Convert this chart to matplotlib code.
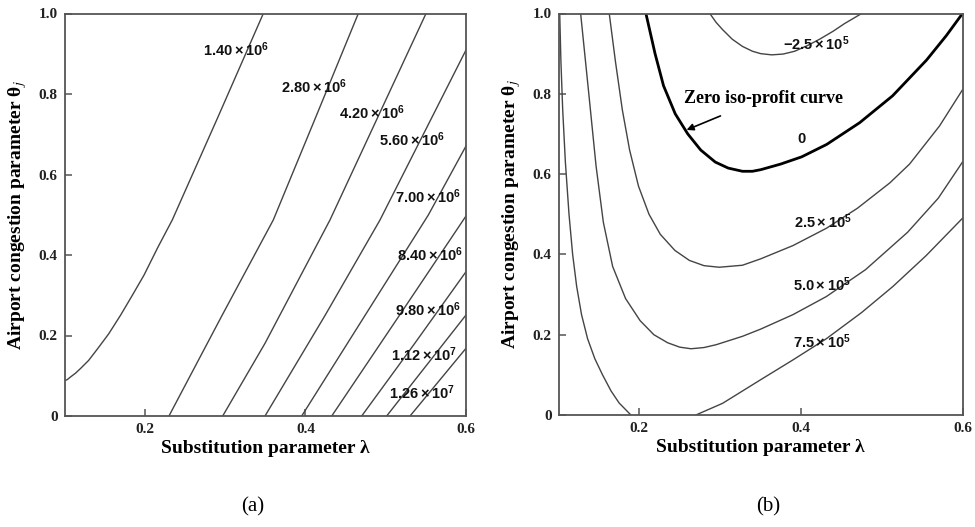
import matplotlib
matplotlib.use('Agg')
import matplotlib.pyplot as plt

plt.rcParams['mathtext.fontset'] = 'custom'
plt.rcParams['mathtext.rm'] = 'Liberation Sans:bold'
plt.rcParams['mathtext.bf'] = 'Liberation Sans:bold'
plt.rcParams['mathtext.it'] = 'Liberation Sans:bold'

# ---------------- data: panel (a) iso-curves (lambda, theta) ----------------
a_140_x = [0.3476, 0.2905, 0.2342, 0.2165, 0.199, 0.1845, 0.170, 0.155, 0.1408,
           0.130, 0.1202, 0.1135, 0.1075, 0.1035, 0.1]
a_140_y = [1.0, 0.74, 0.487, 0.42, 0.35, 0.30, 0.251, 0.204, 0.166,
           0.138, 0.1185, 0.106, 0.097, 0.0905, 0.0877]
a_280_x = [0.4659, 0.413, 0.360, 0.2965, 0.2301]
a_280_y = [1.0, 0.743, 0.487, 0.251, 0.0]
a_420_x = [0.5502, 0.4306, 0.3497, 0.297]
a_420_y = [1.0, 0.487, 0.1806, 0.0]
a_560_x = [0.6, 0.4929, 0.4248, 0.3497]
a_560_y = [0.9093, 0.487, 0.251, 0.0]
a_700_x = [0.6, 0.5531, 0.4746, 0.3954]
a_700_y = [0.6708, 0.4994, 0.251, 0.0]
a_840_x = [0.6, 0.5174, 0.4328]
a_840_y = [0.4969, 0.251, 0.0]
a_980_x = [0.6, 0.536, 0.4701]
a_980_y = [0.3585, 0.18, 0.0]
a_1120_x = [0.6, 0.5012]
a_1120_y = [0.2509, 0.0]
a_1260_x = [0.6, 0.5303]
a_1260_y = [0.1682, 0.0]

a_labels = [r'$\mathbf{1.40\times10^{6}}$', r'$\mathbf{2.80\times10^{6}}$',
            r'$\mathbf{4.20\times10^{6}}$', r'$\mathbf{5.60\times10^{6}}$',
            r'$\mathbf{7.00\times10^{6}}$', r'$\mathbf{8.40\times10^{6}}$',
            r'$\mathbf{9.80\times10^{6}}$', r'$\mathbf{1.12\times10^{7}}$',
            r'$\mathbf{1.26\times10^{7}}$']
a_label_x = [0.3136, 0.4107, 0.4829, 0.5327, 0.5527, 0.5552, 0.5527, 0.5477, 0.5452]
a_label_y = [0.9093, 0.8174, 0.7528, 0.6857, 0.5441, 0.400, 0.2634, 0.1516, 0.0571]

# ---------------- data: panel (b) iso-profit curves ----------------
b_m25_x = [0.2873, 0.295, 0.303, 0.315, 0.3277, 0.34, 0.3503, 0.3639, 0.378,
           0.3923, 0.408, 0.4232, 0.44, 0.4541, 0.4752]
b_m25_y = [1.0, 0.978, 0.96, 0.936, 0.918, 0.906, 0.900, 0.897, 0.899,
           0.906, 0.92, 0.936, 0.956, 0.975, 1.0]
b_0_x = [0.2082, 0.2195, 0.2300, 0.2445, 0.2600, 0.2760, 0.2940, 0.3100, 0.3277,
         0.3400, 0.3503, 0.375, 0.401, 0.432, 0.4727, 0.5135, 0.5555, 0.58, 0.6]
b_0_y = [1.0, 0.90, 0.82, 0.75, 0.70, 0.66, 0.63, 0.615, 0.607,
         0.607, 0.611, 0.625, 0.643, 0.674, 0.728, 0.795, 0.884, 0.945, 1.0]
b_25_x = [0.1628, 0.1705, 0.1790, 0.1880, 0.1990, 0.2120, 0.2260, 0.2440, 0.2620,
          0.2800, 0.2988, 0.3277, 0.3503, 0.3902, 0.4315, 0.47, 0.51, 0.5345,
          0.5716, 0.6]
b_25_y = [1.0, 0.88, 0.76, 0.66, 0.57, 0.50, 0.45, 0.41, 0.385,
          0.372, 0.368, 0.373, 0.389, 0.422, 0.465, 0.515, 0.578, 0.625,
          0.72, 0.81]
b_50_x = [0.1274, 0.1375, 0.1465, 0.1555, 0.1670, 0.1830, 0.2010, 0.2180, 0.2350,
          0.2500, 0.2640, 0.2800, 0.2950, 0.3277, 0.3503, 0.3902, 0.4315, 0.48,
          0.532, 0.57, 0.6]
b_50_y = [1.0, 0.80, 0.62, 0.48, 0.37, 0.29, 0.235, 0.20, 0.18,
          0.169, 0.165, 0.168, 0.175, 0.196, 0.214, 0.25, 0.295, 0.362,
          0.455, 0.54, 0.63]
b_75l_x = [0.1015, 0.1030, 0.1052, 0.1085, 0.1130, 0.1175, 0.1225, 0.1285, 0.1360,
           0.1450, 0.1545, 0.1650, 0.1750, 0.1896]
b_75l_y = [1.0, 0.88, 0.76, 0.63, 0.50, 0.40, 0.32, 0.25, 0.19,
           0.14, 0.10, 0.06, 0.03, 0.0]
b_75r_x = [0.27, 0.303, 0.3503, 0.39, 0.4315, 0.475, 0.5138, 0.555, 0.6]
b_75r_y = [0.0, 0.029, 0.088, 0.137, 0.19, 0.255, 0.32, 0.397, 0.49]

b_labels = [r'$\mathbf{-2.5\times10^{5}}$', r'$\mathbf{0}$', r'$\mathbf{2.5\times10^{5}}$',
            r'$\mathbf{5.0\times10^{5}}$', r'$\mathbf{7.5\times10^{5}}$']
b_label_x = [0.4192, 0.4006, 0.427, 0.4263, 0.4263]
b_label_y = [0.9258, 0.689, 0.4807, 0.3238, 0.1826]

x_ticks = [0.2, 0.4, 0.6]
x_ticklabels = ['0.2', '0.4', '0.6']
y_ticks = [0, 0.2, 0.4, 0.6, 0.8, 1.0]
y_ticklabels = ['0', '0.2', '0.4', '0.6', '0.8', '1.0']

# ---------------- figure ----------------
W, H = 975, 527
fig = plt.figure(figsize=(W / 100, H / 100), dpi=100)

ax_a = fig.add_axes([64.5 / W, (H - 416) / H, 401.5 / W, 402.5 / H])
ax_b = fig.add_axes([558.5 / W, (H - 415) / H, 404 / W, 401.5 / H])

spine_col = '#555555'
line_col = '#444444'
serif = 'Liberation Serif'

for ax in (ax_a, ax_b):
    ax.set_xlim(0.1, 0.6)
    ax.set_ylim(0, 1.0)
    ax.set_xticks(x_ticks)
    ax.set_xticklabels(x_ticklabels)
    ax.set_yticks(y_ticks)
    ax.set_yticklabels(y_ticklabels)
    ax.tick_params(direction='in', length=5, width=1.1, color=spine_col,
                   top=False, right=False, pad=5)
    for lab in ax.get_xticklabels() + ax.get_yticklabels():
        lab.set_fontfamily(serif)
        lab.set_fontweight('bold')
        lab.set_fontsize(11)
        lab.set_color('#222222')
    for sp in ax.spines.values():
        sp.set_color(spine_col)
        sp.set_linewidth(1.3)
    ax.set_xlabel('Substitution parameter λ', fontfamily=serif, fontweight='bold',
                  fontsize=14, labelpad=3)
    ax.set_ylabel('Airport congestion parameter θ$_{j}$', fontfamily=serif,
                  fontweight='bold', fontsize=14, math_fontfamily='stix', labelpad=7)

# panel (a)
for xs, ys in [(a_140_x, a_140_y), (a_280_x, a_280_y), (a_420_x, a_420_y),
               (a_560_x, a_560_y), (a_700_x, a_700_y), (a_840_x, a_840_y),
               (a_980_x, a_980_y), (a_1120_x, a_1120_y), (a_1260_x, a_1260_y)]:
    ax_a.plot(xs, ys, color=line_col, lw=1.0, solid_joinstyle='round')
for t, x, y in zip(a_labels, a_label_x, a_label_y):
    ax_a.text(x, y, t, ha='center', va='center', fontsize=10.5, color='#111111')

# panel (b)
for xs, ys in [(b_m25_x, b_m25_y), (b_25_x, b_25_y), (b_50_x, b_50_y),
               (b_75l_x, b_75l_y), (b_75r_x, b_75r_y)]:
    ax_b.plot(xs, ys, color=line_col, lw=1.0, solid_joinstyle='round')
ax_b.plot(b_0_x, b_0_y, color='black', lw=2.0, solid_joinstyle='round')
for t, x, y in zip(b_labels, b_label_x, b_label_y):
    ax_b.text(x, y, t, ha='center', va='center', fontsize=10.5, color='#111111')

ax_b.annotate('Zero iso-profit curve', xy=(0.2585, 0.71), xytext=(0.3532, 0.7889),
              ha='center', va='center', fontfamily=serif, fontweight='bold', fontsize=13,
              arrowprops=dict(arrowstyle='-|>', color='black', lw=1.2,
                              shrinkA=12, shrinkB=0, mutation_scale=10))

fig.text(253 / W, (H - 507) / H, '(a)', ha='center', va='center',
         fontfamily=serif, fontsize=15)
fig.text(768 / W, (H - 507) / H, '(b)', ha='center', va='center',
         fontfamily=serif, fontsize=15)

fig.savefig('out.png', dpi=100)
